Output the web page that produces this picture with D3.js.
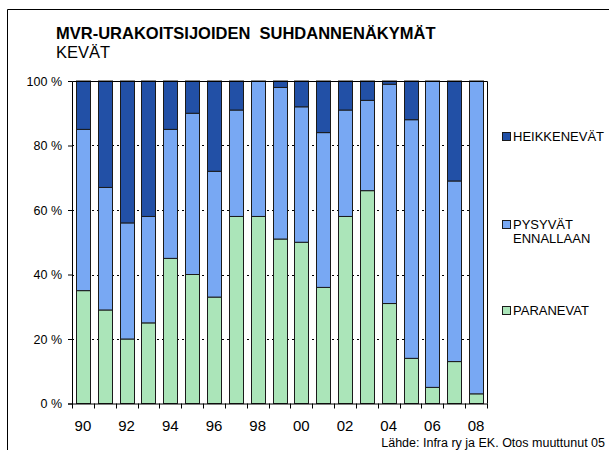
<!DOCTYPE html>
<html>
<head>
<meta charset="utf-8">
<script src="https://cdn.jsdelivr.net/npm/d3@7"></script>
<style>
    body { margin: 0; background: #fff }
</style>
</head>
<body>
<div id="chart"></div>
<script>

// MVR-urakoitsijoiden suhdannenäkymät, kevät 1990-2008 (%)

var years = ['90','91','92','93','94','95','96','97','98','99',
             '00','01','02','03','04','05','06','07','08']
var yearLabels = ['90','92','94','96','98','00','02','04','06','08']

var paranevat   = [35,29,20,25,45,40,33,58,58,51,50,36,58,66,31,14, 5,13, 3]
var pysyvat     = [50,38,36,33,40,50,39,33,42,47,42,48,33,28,68,74,95,56,97]
var heikkenevat = [15,33,44,42,15,10,28, 9, 0, 2, 8,16, 9, 6, 1,12, 0,31, 0]

var yTicks = [0,20,40,60,80,100]

var seriesKeys = ['paranevat','pysyvat','heikkenevat']
var seriesColors = {paranevat: '#abe5b9', pysyvat: '#78a8f3', heikkenevat: '#2250a6'}

var width = 609,
    height = 455,
    margin = {top: 81, right: 122, bottom: 51.5, left: 72},
    font = 'Arial, "Liberation Sans", sans-serif'

var innerWidth = width - margin.left - margin.right
var innerHeight = height - margin.top - margin.bottom

var rows = years.map(function(y,i) {
    return {year: y, paranevat: paranevat[i], pysyvat: pysyvat[i], heikkenevat: heikkenevat[i]}
})

var stacked = d3.stack().keys(seriesKeys)(rows)

var xScale = d3.scaleBand()
    .domain(years)
    .range([0,innerWidth])
    .paddingInner(0.36)
    .paddingOuter(0.18)

var yScale = d3.scaleLinear()
    .domain([0,100])
    .range([innerHeight,0])

var svg = d3.select('#chart')
    .append('svg')
    .attr('width',width)
    .attr('height',height)
    .attr('font-family',font)

// outer frame (left and top edges show)
svg.append('path')
    .attr('d','M7.5,450V9.5H609')
    .attr('fill','none')
    .attr('stroke','#000')

svg.append('text')
    .attr('x',56)
    .attr('y',39)
    .attr('font-size','16.5px')
    .attr('font-weight','bold')
    .style('white-space','pre')
    .text('MVR-URAKOITSIJOIDEN  SUHDANNENÄKYMÄT')

svg.append('text')
    .attr('x',56)
    .attr('y',58)
    .attr('font-size','16.5px')
    .text('KEVÄT')

var g = svg.append('g')
    .attr('transform',`translate(${margin.left},${margin.top})`)

// dotted grid
g.append('g')
    .selectAll('line')
    .data(yTicks.filter(d => d > 0 && d < 100))
    .join('line')
    .attr('x1',0)
    .attr('x2',innerWidth)
    .attr('y1',d => Math.round(yScale(d)) + 0.5)
    .attr('y2',d => Math.round(yScale(d)) + 0.5)
    .attr('stroke','#000')
    .attr('stroke-dasharray','2,3')

// bars
g.append('g')
    .selectAll('g')
    .data(stacked)
    .join('g')
    .attr('fill',d => seriesColors[d.key])
    .selectAll('rect')
    .data(d => d.filter(s => s[1] - s[0] > 0))
    .join('rect')
    .attr('x',d => Math.round(xScale(d.data.year)) + 0.5)
    .attr('y',d => yScale(d[1]))
    .attr('width',Math.round(xScale.bandwidth()))
    .attr('height',d => yScale(d[0]) - yScale(d[1]))
    .attr('stroke','#1a1a1a')
    .attr('stroke-width',1)

// plot frame (top and right)
g.append('path')
    .attr('d',`M0.5,0.5H${innerWidth + 0.5}V${innerHeight}`)
    .attr('fill','none')
    .attr('stroke','#000')

// y axis
var yAxis = g.append('g')
    .call(d3.axisLeft(yScale)
        .tickValues(yTicks)
        .tickSize(4)
        .tickPadding(6)
        .tickFormat(d => d + ' %'))

yAxis.selectAll('text')
    .attr('font-family',font)
    .attr('font-size','12.5px')
    .attr('fill','#000')

// x axis: ticks at every band edge, labels every other year
var edges = d3.range(years.length + 1).map(i => i * xScale.step())

var xAxis = g.append('g')
    .attr('transform',`translate(0,${innerHeight})`)

xAxis.append('line')
    .attr('x1',0)
    .attr('x2',innerWidth + 0.5)
    .attr('y1',0.5)
    .attr('y2',0.5)
    .attr('stroke','#000')

xAxis.selectAll('.tick')
    .data(edges)
    .join('line')
    .attr('class','tick')
    .attr('x1',d => Math.round(d) + 0.5)
    .attr('x2',d => Math.round(d) + 0.5)
    .attr('y1',0)
    .attr('y2',5)
    .attr('stroke','#000')

xAxis.selectAll('.label')
    .data(yearLabels)
    .join('text')
    .attr('class','label')
    .attr('x',d => xScale(d) + xScale.bandwidth() / 2)
    .attr('y',27)
    .attr('text-anchor','middle')
    .attr('font-size','15px')
    .text(d => d)

// legend
var legendItems = [
    {key: 'heikkenevat', lines: ['HEIKKENEVÄT'], y: 136},
    {key: 'pysyvat', lines: ['PYSYVÄT','ENNALLAAN'], y: 224},
    {key: 'paranevat', lines: ['PARANEVAT'], y: 310}
]

var legend = svg.append('g')
    .selectAll('g')
    .data(legendItems)
    .join('g')
    .attr('transform',d => `translate(502,${d.y})`)

legend.append('rect')
    .attr('x',0.5)
    .attr('y',-3.5)
    .attr('width',8)
    .attr('height',8)
    .attr('fill',d => seriesColors[d.key])
    .attr('stroke','#1a1a1a')

legend.append('text')
    .attr('font-size','13px')
    .selectAll('tspan')
    .data(d => d.lines)
    .join('tspan')
    .attr('x',11)
    .attr('y',(d,i) => i * 14)
    .attr('dy','0.4em')
    .text(d => d)

svg.append('text')
    .attr('x',605)
    .attr('y',447)
    .attr('text-anchor','end')
    .attr('font-size','12.5px')
    .text('Lähde: Infra ry ja EK. Otos muuttunut 05')

</script>
</body>
</html>
